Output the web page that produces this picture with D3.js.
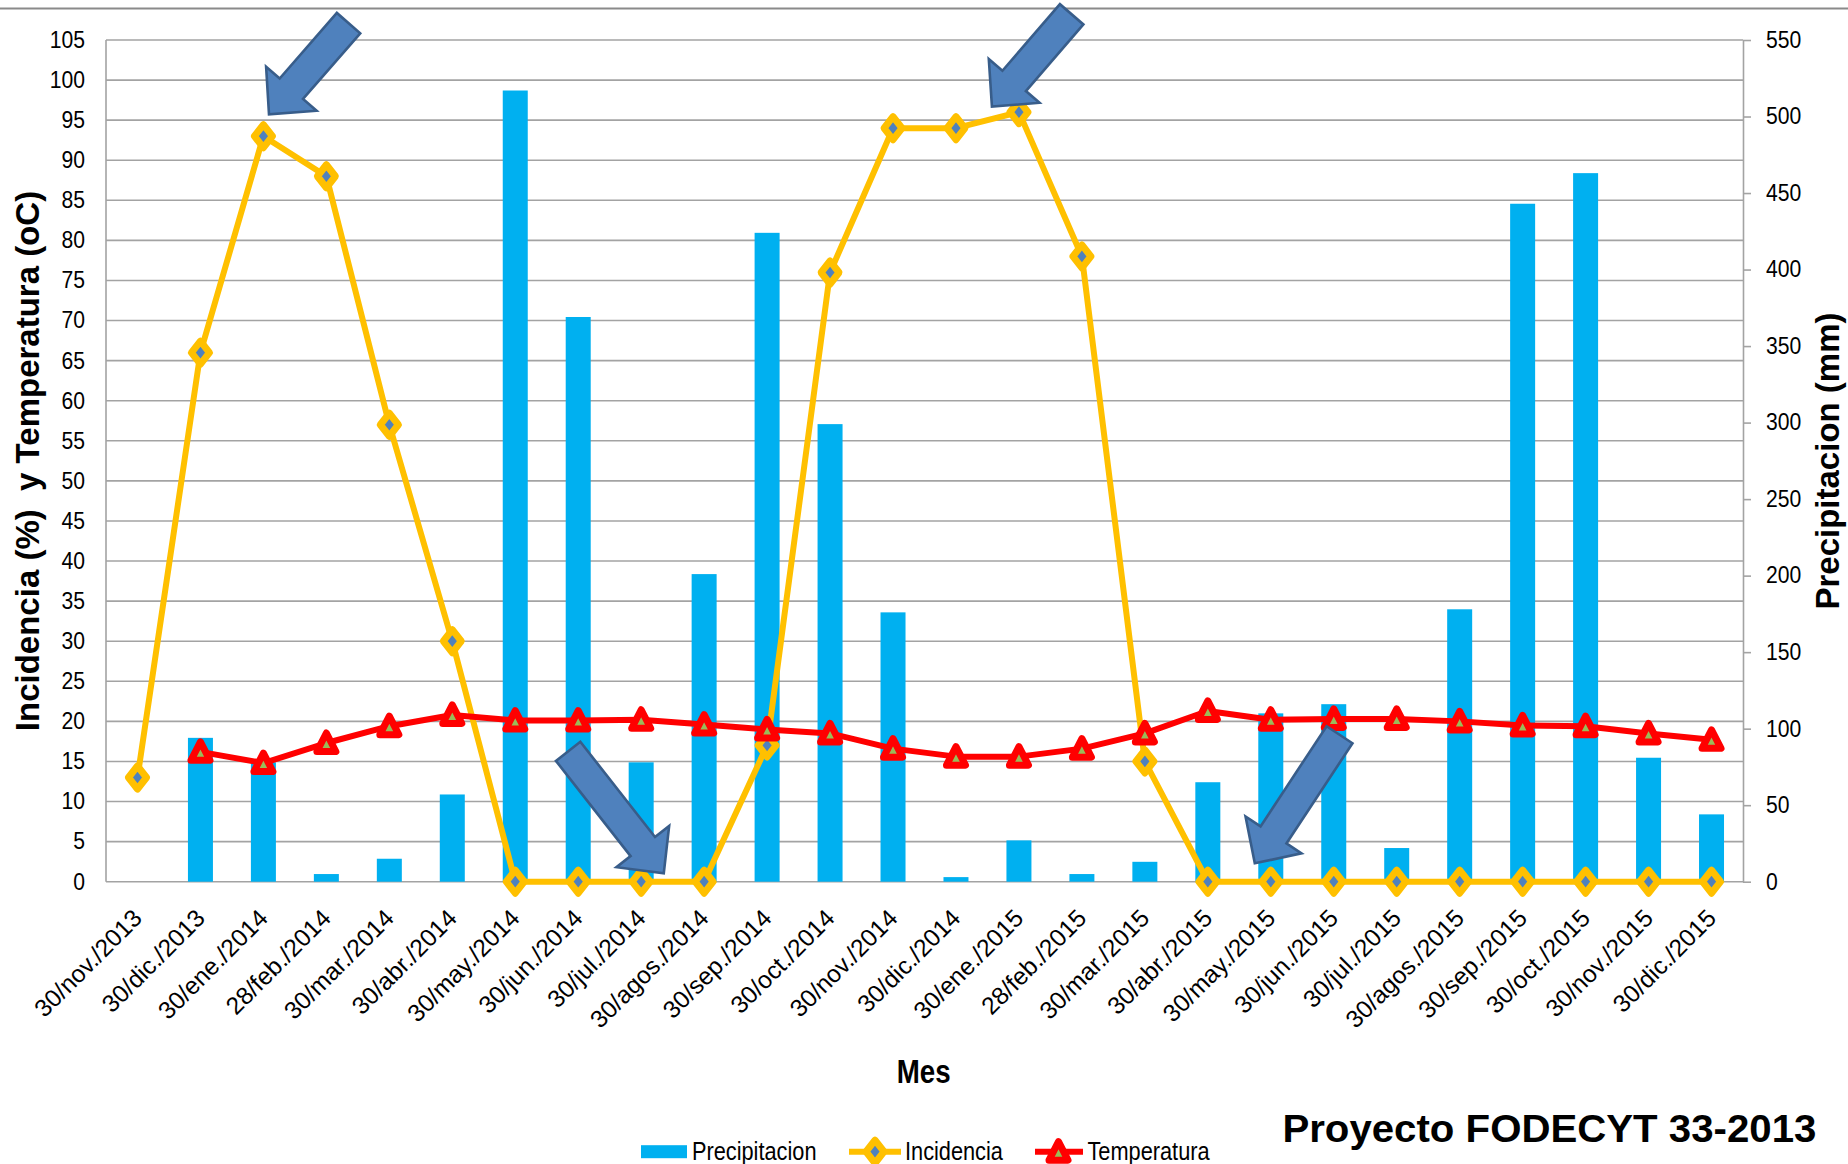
<!DOCTYPE html>
<html>
<head>
<meta charset="utf-8">
<script src="https://cdn.jsdelivr.net/npm/d3@7"></script>
<style>
  html, body { margin: 0; padding: 0; background: #ffffff; }
  svg { display: block; }
  text { font-family: "Liberation Sans", Arial, sans-serif; fill: #000; }
</style>
</head>
<body>
<svg id="chart" width="1848" height="1164"></svg>
<script>
// ---- data ----
const categories = [
  "30/nov./2013", "30/dic./2013", "30/ene./2014", "28/feb./2014", "30/mar./2014",
  "30/abr./2014", "30/may./2014", "30/jun./2014", "30/jul./2014", "30/agos./2014",
  "30/sep./2014", "30/oct./2014", "30/nov./2014", "30/dic./2014", "30/ene./2015",
  "28/feb./2015", "30/mar./2015", "30/abr./2015", "30/may./2015", "30/jun./2015",
  "30/jul./2015", "30/agos./2015", "30/sep./2015", "30/oct./2015", "30/nov./2015",
  "30/dic./2015"
];
// Precipitacion (mm), right axis
const precipitacion = [null, 94, 78, 5, 15, 57, 517, 369, 78, 201, 424, 299, 176, 3, 27, 5, 13, 65, 110, 116, 22, 178, 443, 463, 81, 44];
// Incidencia (%), left axis
const incidencia = [13, 66, 93, 88, 57, 30, 0, 0, 0, 0, 17, 76, 94, 94, 96, 78, 15, 0, 0, 0, 0, 0, 0, 0, 0, 0];
// Temperatura (oC), left axis
const temperatura = [null, 16.2, 14.8, 17.3, 19.4, 20.8, 20.1, 20.1, 20.2, 19.6, 19.0, 18.5, 16.6, 15.6, 15.6, 16.6, 18.5, 21.3, 20.2, 20.3, 20.3, 20.0, 19.5, 19.4, 18.5, 17.7];

const leftTicks = d3.range(0, 106, 5);
const rightTicks = d3.range(0, 551, 50);

const seriesNames = ["Precipitacion", "Incidencia", "Temperatura"];
const leftTitle = "Incidencia (%)  y Temperatura (oC)";
const rightTitle = "Precipitacion (mm)";
const xTitle = "Mes";
const footer = "Proyecto FODECYT 33-2013";

// highlighted months (block arrows point at the incidence marker)
const arrowCategories = ["30/ene./2014", "30/ene./2015", "30/jul./2014", "30/may./2015"];

// ---- layout ----
const plot = { left: 106, right: 1743, top: 40, bottom: 881.7 };
const colors = {
  bar: "#00B0F0", inc: "#FFC000", incFill: "#4F81BD",
  temp: "#FF0000", tempFill: "#9BBB59", grid: "#a3a3a3",
  arrowFill: "#4F81BD", arrowStroke: "#385D8A"
};
// arrow placement relative to its target marker: tip offset, heading (deg), total length
const arrowLayout = [
  { dx: 5.6, dy: -21.9, angle: 131.1, length: 121 },
  { dx: -27, dy: -5.5, angle: 130.8, length: 122 },
  { dx: 22.6, dy: -8.4, angle: 51.9, length: 155 },
  { dx: -16, dy: -18.4, angle: 123.4, length: 154 }
];

const svg = d3.select("#chart");
svg.append("rect").attr("width", 1848).attr("height", 1164).attr("fill", "#fff");

// frame line across the top of the image
svg.append("line").attr("x1", 0).attr("x2", 1848).attr("y1", 8.5).attr("y2", 8.5)
  .attr("stroke", "#8a8a8a").attr("stroke-width", 2);

const x = d3.scaleBand().domain(categories).range([plot.left, plot.right]).padding(0);
const yL = d3.scaleLinear().domain([0, 105]).range([plot.bottom, plot.top]);
const yR = d3.scaleLinear().domain([0, 550]).range([plot.bottom, plot.top]);
const cx = c => x(c) + x.bandwidth() / 2;

// gridlines
svg.append("g").selectAll("line").data(leftTicks).join("line")
  .attr("x1", plot.left).attr("x2", plot.right)
  .attr("y1", d => yL(d)).attr("y2", d => yL(d))
  .attr("stroke", colors.grid).attr("stroke-width", 1.6);

// vertical axis lines
svg.append("line").attr("x1", plot.left).attr("x2", plot.left)
  .attr("y1", plot.top).attr("y2", plot.bottom)
  .attr("stroke", colors.grid).attr("stroke-width", 1.6);

// left axis labels
const gL = svg.append("g").attr("transform", `translate(${plot.left},0)`)
  .call(d3.axisLeft(yL).tickValues(leftTicks).tickSize(0).tickPadding(21));
gL.select(".domain").remove();
gL.selectAll("text").attr("font-size", 23).attr("font-family", "Liberation Sans, Arial, sans-serif")
  .attr("fill", "#000")
  .each(function () {
    const t = d3.select(this); const tx = +t.attr("x");
    t.attr("x", 0).attr("transform", `translate(${tx},0) scale(0.92,1)`);
  });

// right axis
const gR = svg.append("g").attr("transform", `translate(${plot.right},0)`)
  .call(d3.axisRight(yR).tickValues(rightTicks).tickSize(8).tickSizeOuter(0).tickPadding(15));
gR.select(".domain").attr("stroke", colors.grid).attr("stroke-width", 1.6);
gR.selectAll(".tick line").attr("stroke", colors.grid).attr("stroke-width", 1.6);
gR.selectAll("text").attr("font-size", 23).attr("font-family", "Liberation Sans, Arial, sans-serif")
  .attr("fill", "#000")
  .each(function () {
    const t = d3.select(this); const tx = +t.attr("x");
    t.attr("x", 0).attr("transform", `translate(${tx},0) scale(0.92,1)`);
  });

// category labels
const gX = svg.append("g").attr("transform", `translate(0,${plot.bottom})`)
  .call(d3.axisBottom(x).tickSize(0).tickPadding(0));
gX.select(".domain").remove();
gX.selectAll("text")
  .attr("font-size", 24.5).attr("font-family", "Liberation Sans, Arial, sans-serif")
  .attr("fill", "#000").attr("text-anchor", "end")
  .attr("dy", null).attr("y", 0).attr("x", 0)
  .attr("transform", "translate(6,38) rotate(-45)");

// bars (Precipitacion)
const barW = 25;
svg.append("g").selectAll("rect")
  .data(categories.map((c, i) => ({ c, v: precipitacion[i] })).filter(d => d.v != null))
  .join("rect")
  .attr("x", d => cx(d.c) - barW / 2).attr("width", barW)
  .attr("y", d => yR(d.v)).attr("height", d => yR(0) - yR(d.v))
  .attr("fill", colors.bar);

// Incidencia line + diamonds
const incData = categories.map((c, i) => ({ c, v: incidencia[i] }));
svg.append("path").datum(incData)
  .attr("d", d3.line().defined(d => d.v != null).x(d => cx(d.c)).y(d => yL(d.v)))
  .attr("fill", "none").attr("stroke", colors.inc).attr("stroke-width", 6)
  .attr("stroke-linejoin", "round");
const diamond = "M0,-11.5L9,0L0,11.5L-9,0Z";
svg.append("g").selectAll("path").data(incData.filter(d => d.v != null)).join("path")
  .attr("d", diamond).attr("transform", d => `translate(${cx(d.c)},${yL(d.v)})`)
  .attr("fill", colors.incFill).attr("stroke", colors.inc).attr("stroke-width", 7)
  .attr("stroke-linejoin", "round");

// Temperatura line + triangles
const tempData = categories.map((c, i) => ({ c, v: temperatura[i] }));
svg.append("path").datum(tempData)
  .attr("d", d3.line().defined(d => d.v != null).x(d => cx(d.c)).y(d => yL(d.v)))
  .attr("fill", "none").attr("stroke", colors.temp).attr("stroke-width", 6)
  .attr("stroke-linejoin", "round");
const triangle = "M0,-10L9.5,8.5L-9.5,8.5Z";
svg.append("g").selectAll("path").data(tempData.filter(d => d.v != null)).join("path")
  .attr("d", triangle).attr("transform", d => `translate(${cx(d.c)},${yL(d.v)})`)
  .attr("fill", colors.tempFill).attr("stroke", colors.temp).attr("stroke-width", 7)
  .attr("stroke-linejoin", "round");

// axis titles
svg.append("text").attr("transform", "translate(38.5,461) rotate(-90)")
  .attr("text-anchor", "middle").attr("font-size", 33).attr("font-weight", "bold")
  .attr("xml:space", "preserve").style("white-space", "pre")
  .text(leftTitle);
svg.append("text").attr("transform", "translate(1839,461) rotate(-90)")
  .attr("text-anchor", "middle").attr("font-size", 33).attr("font-weight", "bold")
  .text(rightTitle);
svg.append("text").attr("transform", "translate(923.6,1083) scale(0.84,1)")
  .attr("text-anchor", "middle").attr("font-size", 33).attr("font-weight", "bold")
  .text(xTitle);

// block arrows
function blockArrow(L, H = 34, W = 33.5, S = 15.5) {
  return `M${-L},${-S}L${-H},${-S}L${-H},${-W}L0,0L${-H},${W}L${-H},${S}L${-L},${S}Z`;
}
svg.append("g").selectAll("path")
  .data(arrowCategories.map((c, i) => ({ c, v: incidencia[categories.indexOf(c)], lay: arrowLayout[i] })))
  .join("path")
  .attr("d", d => blockArrow(d.lay.length))
  .attr("transform", d => `translate(${cx(d.c) + d.lay.dx},${yL(d.v) + d.lay.dy}) rotate(${d.lay.angle})`)
  .attr("fill", colors.arrowFill).attr("stroke", colors.arrowStroke).attr("stroke-width", 2.6)
  .attr("stroke-linejoin", "miter");

// legend
const legY = 1151.7;
const leg = svg.append("g");
leg.append("rect").attr("x", 641).attr("y", legY - 6.5).attr("width", 46).attr("height", 13).attr("fill", colors.bar);
leg.append("line").attr("x1", 849).attr("x2", 901).attr("y1", legY).attr("y2", legY)
  .attr("stroke", colors.inc).attr("stroke-width", 6);
leg.append("path").attr("d", diamond).attr("transform", `translate(875,${legY})`)
  .attr("fill", colors.incFill).attr("stroke", colors.inc).attr("stroke-width", 7).attr("stroke-linejoin", "round");
leg.append("line").attr("x1", 1035).attr("x2", 1083).attr("y1", legY).attr("y2", legY)
  .attr("stroke", colors.temp).attr("stroke-width", 6);
leg.append("path").attr("d", triangle).attr("transform", `translate(1058.5,${legY})`)
  .attr("fill", colors.tempFill).attr("stroke", colors.temp).attr("stroke-width", 7).attr("stroke-linejoin", "round");
const legTextX = [692, 905, 1087.5];
seriesNames.forEach((n, i) => {
  leg.append("text").attr("transform", `translate(${legTextX[i]},1159.5) scale(0.87,1)`)
    .attr("font-size", 25).text(n);
});

// footer credit
svg.append("text").attr("x", 1282.4).attr("y", 1141.7)
  .attr("font-family", "'Open Sans', 'Liberation Sans', sans-serif")
  .attr("font-weight", "bold").attr("font-size", 38)
  .attr("textLength", 534).attr("lengthAdjust", "spacingAndGlyphs")
  .text(footer);
</script>
</body>
</html>
